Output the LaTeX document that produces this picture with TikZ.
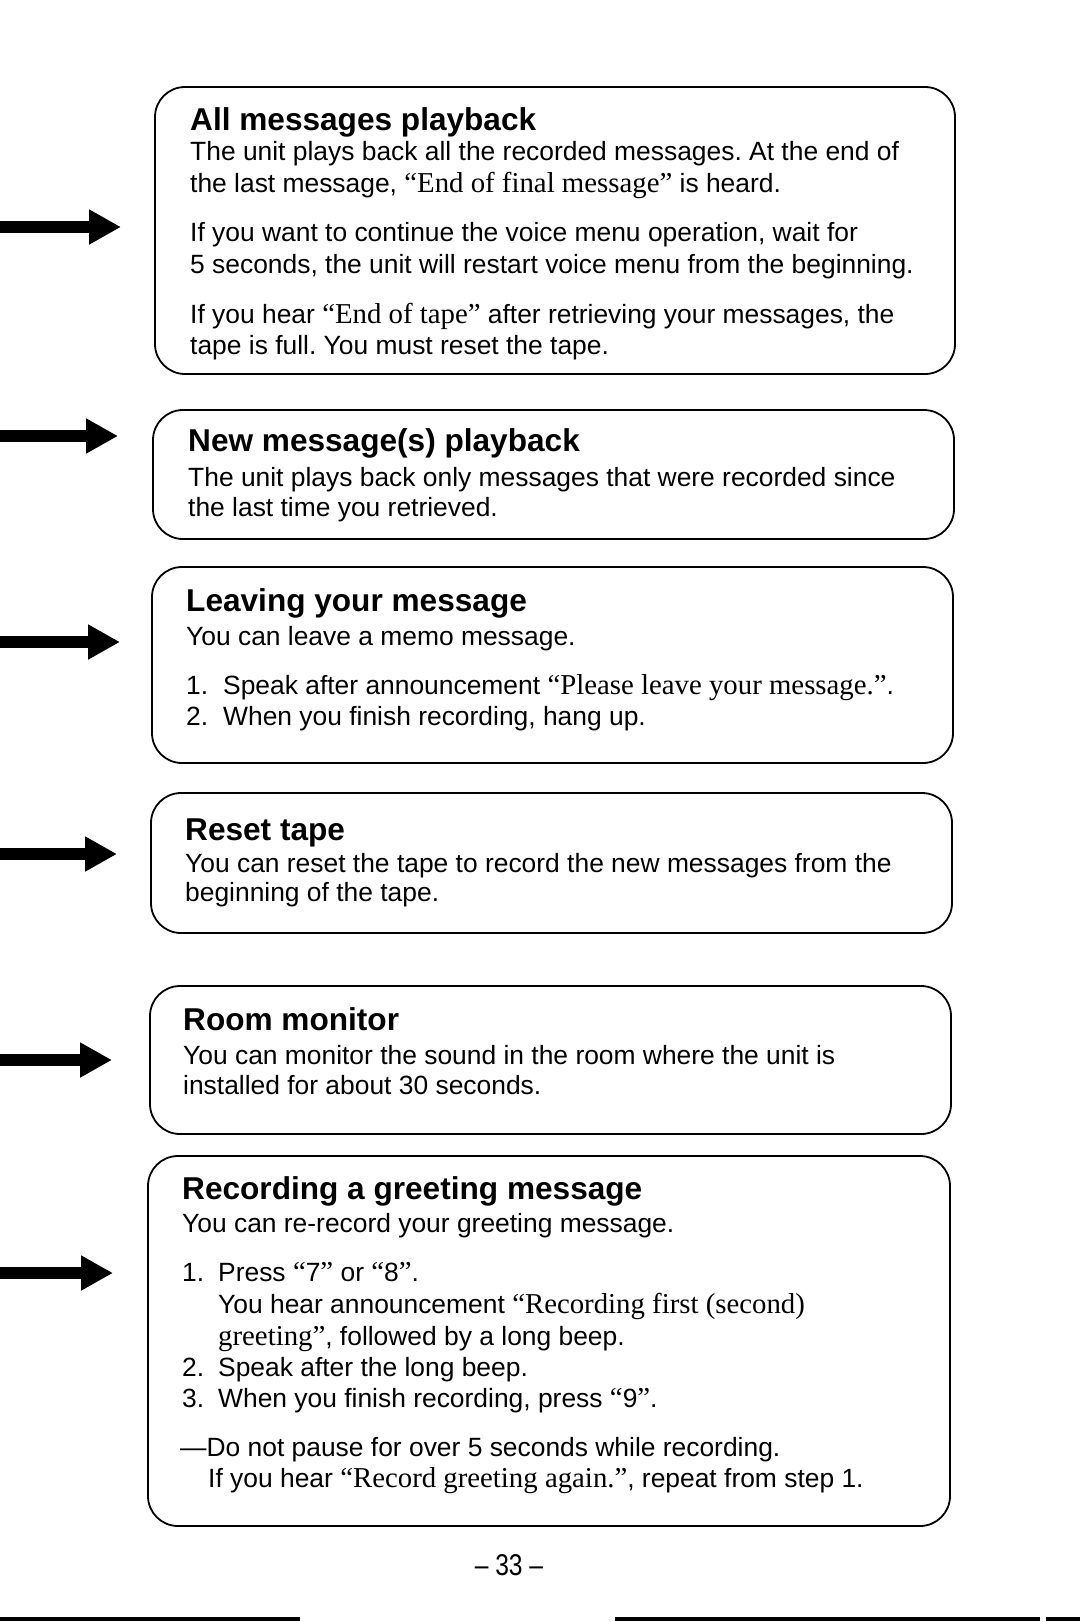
\documentclass[tikz,border=0pt]{standalone}
\usepackage{fontspec}
\setmainfont{Liberation Sans}
\newfontfamily\serifq{Liberation Serif}
\usetikzlibrary{arrows.meta}
\newcommand{\qs}[1]{{\serifq\fontsize{28.8}{30}\selectfont #1}}
\frenchspacing
\tikzset{
  box/.style={draw, line width=1.8pt, rounded corners=30pt},
  body/.style={anchor=base west, inner sep=0pt, font=\fontsize{26.4}{30}\selectfont},
  ttl/.style={anchor=base west, inner sep=0pt, font=\fontsize{31.6}{36}\selectfont\bfseries},
  bigarrow/.style={line width=12pt, -{Triangle[length=32pt,width=33pt]}},
  edgeline/.style={line width=4pt}
}
\begin{document}
\begin{tikzpicture}[x=1pt,y=-1pt]
\useasboundingbox (0,0) rectangle (1080,1622);
% boxes
\draw[box] (155,87) rectangle (955,374);
\draw[box] (153,410) rectangle (954,539);
\draw[box] (152,567) rectangle (953,763);
\draw[box] (151,793) rectangle (952,933);
\draw[box] (150,986) rectangle (951,1134);
\draw[box] (148,1156) rectangle (950,1526);
% arrows
\coordinate (a1s) at (0,227);  \coordinate (a1e) at (121,227);
\coordinate (a2s) at (0,436);  \coordinate (a2e) at (118,436);
\coordinate (a3s) at (0,642);  \coordinate (a3e) at (120,642);
\coordinate (a4s) at (0,854);  \coordinate (a4e) at (117,854);
\coordinate (a5s) at (0,1060); \coordinate (a5e) at (112,1060);
\coordinate (a6s) at (0,1273); \coordinate (a6e) at (113,1273);
\foreach \i in {1,...,6} {\draw[bigarrow] (a\i s) -- (a\i e);}
% box 1
\node[ttl]  (t1)  at (190,130) {All messages playback};
\node[body] (t1a) at (190,160) {The unit plays back all the recorded messages. At the end of};
\node[body] (t1b) at (190,192) {the last message, \qs{“End of final message”} is heard.};
\node[body] (t1c) at (190,241) {If you want to continue the voice menu operation, wait for};
\node[body] (t1d) at (190,273) {5 seconds, the unit will restart voice menu from the beginning.};
\node[body] (t1e) at (190,323) {If you hear \qs{“End of tape”} after retrieving your messages, the};
\node[body] (t1f) at (190,354) {tape is full. You must reset the tape.};
% box 2
\node[ttl]  (t2)  at (188,451) {New message(s) playback};
\node[body] (t2a) at (188,486) {The unit plays back only messages that were recorded since};
\node[body] (t2b) at (188,516) {the last time you retrieved.};
% box 3
\node[ttl]  (t3)  at (186,611) {Leaving your message};
\node[body] (t3a) at (186,645) {You can leave a memo message.};
\node[body] (t3b) at (186,694) {1.};
\node[body] (t3c) at (223,694) {Speak after announcement \qs{“Please leave your message.”}.};
\node[body] (t3d) at (186,725) {2.};
\node[body] (t3e) at (223,725) {When you finish recording, hang up.};
% box 4
\node[ttl]  (t4)  at (185,840) {Reset tape};
\node[body] (t4a) at (185,872) {You can reset the tape to record the new messages from the};
\node[body] (t4b) at (185,901) {beginning of the tape.};
% box 5
\node[ttl]  (t5)  at (183,1030) {Room monitor};
\node[body] (t5a) at (183,1064) {You can monitor the sound in the room where the unit is};
\node[body] (t5b) at (183,1094) {installed for about 30 seconds.};
% box 6
\node[ttl]  (t6)  at (182,1199) {Recording a greeting message};
\node[body] (t6a) at (182,1232) {You can re-record your greeting message.};
\node[body] (t6b) at (182,1281) {1.};
\node[body] (t6c) at (218,1281) {Press \qs{“}7\qs{”} or \qs{“}8\qs{”}.};
\node[body] (t6d) at (218,1313) {You hear announcement \qs{“Recording first (second)}};
\node[body] (t6e) at (218,1345) {\qs{greeting”}, followed by a long beep.};
\node[body] (t6f) at (182,1376) {2.};
\node[body] (t6g) at (218,1376) {Speak after the long beep.};
\node[body] (t6h) at (182,1407) {3.};
\node[body] (t6i) at (218,1407) {When you finish recording, press \qs{“}9\qs{”}.};
\node[body] (t6j) at (180,1456) {—Do not pause for over 5 seconds while recording.};
\node[body] (t6k) at (208,1487) {If you hear \qs{“Record greeting again.”}, repeat from step 1.};
% page number
\node[anchor=base, inner sep=0pt, font=\fontsize{30}{32}\selectfont] (pg) at (509,1575) {\scalebox{0.82}[1]{– 33 –}};
% bottom edge lines
\coordinate (e1) at (0,1619);   \coordinate (e2) at (300,1619);
\coordinate (e3) at (615,1619); \coordinate (e4) at (1040,1619);
\coordinate (e5) at (1046,1619); \coordinate (e6) at (1080,1619);
\draw[edgeline] (e1) -- (e2);
\draw[edgeline] (e3) -- (e4);
\draw[edgeline] (e5) -- (e6);
\end{tikzpicture}
\end{document}
